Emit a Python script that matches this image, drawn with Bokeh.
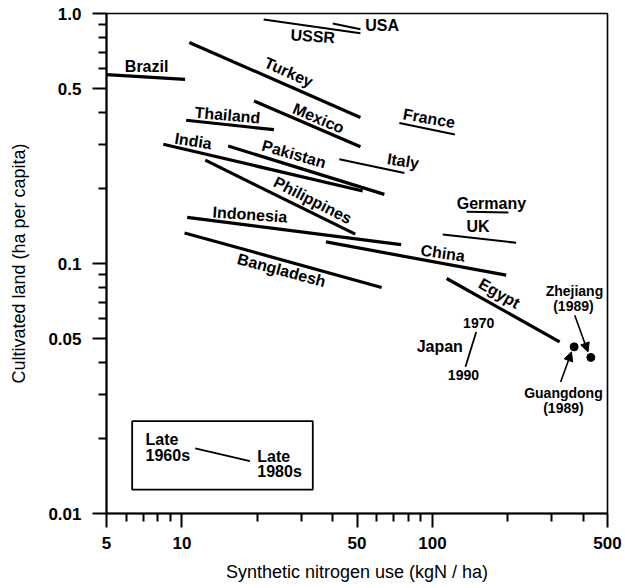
from bokeh.plotting import figure
from bokeh.models import (ColumnDataSource, FixedTicker, CustomJSTickFormatter, Range1d,
                          Arrow, NormalHead, BoxAnnotation)
from bokeh.core.properties import value
from bokeh.embed import file_html
from bokeh.resources import INLINE

# ---------------- data ----------------
countries = ["Brazil", "USSR", "USA", "Turkey", "Mexico", "Thailand", "France", "India",
             "Pakistan", "Italy", "Philippines", "Indonesia", "China", "Bangladesh",
             "Germany", "UK", "Egypt"]
# synthetic nitrogen use (kgN/ha), late 1960s and late 1980s
n_late1960s = [5.0, 21.2, 40.0, 10.7, 19.4, 10.4, 73.8, 8.43, 15.3, 42.5, 12.4, 10.5, 37.6,
               10.25, 137.0, 110.0, 114.0]
n_late1980s = [10.3, 51.6, 51.6, 51.6, 51.6, 23.3, 123.0, 52.7, 64.3, 77.3, 49.2, 75.0, 197.0,
               62.7, 201.0, 216.0, 322.0]
# cultivated land (ha per capita), late 1960s and late 1980s
land_late1960s = [0.570, 0.946, 0.912, 0.766, 0.447, 0.374, 0.365, 0.300, 0.295, 0.261, 0.259,
                  0.153, 0.122, 0.1325, 0.161, 0.1306, 0.0871]
land_late1980s = [0.545, 0.834, 0.865, 0.384, 0.293, 0.343, 0.328, 0.195, 0.189, 0.230, 0.131,
                  0.119, 0.0898, 0.0802, 0.160, 0.121, 0.0486]

japan_years = ["1970", "1990"]
japan_n = [149.6, 135.5]
japan_land = [0.0532, 0.0386]

provinces = ["Guangdong", "Zhejiang"]
province_n = [368.0, 429.0]
province_land = [0.0464, 0.0421]

x_ticks = [5, 10, 50, 100, 500]
x_tick_labels = ["5", "10", "50", "100", "500"]
x_minor = [6, 7, 8, 9, 20, 30, 40, 60, 70, 80, 90, 200, 300, 400]
y_ticks = [0.01, 0.05, 0.1, 0.5, 1.0]
y_tick_labels = ["0.01", "0.05", "0.1", "0.5", "1.0"]
y_minor = [0.02, 0.03, 0.04, 0.06, 0.07, 0.08, 0.09, 0.2, 0.3, 0.4, 0.6, 0.7, 0.8, 0.9]

# ---------------- label placement (layout, not data) ----------------
label_pos = {
    "Brazil": (7.23, 0.613, 0), "USSR": (33.3, 0.811, -4), "USA": (63.0, 0.898, 0),
    "Turkey": (26.7, 0.582, -24), "Mexico": (35.1, 0.381, -23), "Thailand": (15.2, 0.392, -5),
    "France": (97.0, 0.381, -10), "India": (11.1, 0.309, -9), "Pakistan": (28.0, 0.274, -16),
    "Italy": (76.4, 0.257, -9), "Philippines": (33.3, 0.179, -27),
    "Indonesia": (18.7, 0.157, -4), "China": (110.0, 0.110, -8),
    "Bangladesh": (25.0, 0.094, -15), "Germany": (172.0, 0.174, 0), "UK": (152.0, 0.140, 0),
    "Egypt": (185.0, 0.076, -30),
}
thin = {"USSR", "USA", "France", "Italy", "Germany", "UK"}

FONT = "Liberation Sans"

p = figure(width=625, height=588, x_axis_type="log", y_axis_type="log",
           x_range=Range1d(5, 500), y_range=Range1d(0.01, 1.0),
           output_backend="svg", toolbar_location=None,
           min_border_left=106, min_border_right=18, min_border_top=13, min_border_bottom=75)
p.xgrid.visible = False
p.ygrid.visible = False
p.outline_line_color = "black"
p.outline_line_width = 1.6
p.background_fill_color = "white"
p.border_fill_color = "white"

fmt_code = """
const i = vals.findIndex(v => Math.abs(Math.log10(v) - Math.log10(tick)) < 1e-6);
return i >= 0 ? labels[i] : "";
"""
p.xaxis.ticker = FixedTicker(ticks=x_ticks, minor_ticks=x_minor)
p.xaxis.formatter = CustomJSTickFormatter(args=dict(vals=x_ticks, labels=x_tick_labels), code=fmt_code)
p.yaxis.ticker = FixedTicker(ticks=y_ticks, minor_ticks=y_minor)
p.yaxis.formatter = CustomJSTickFormatter(args=dict(vals=y_ticks, labels=y_tick_labels), code=fmt_code)

for ax in (p.xaxis[0], p.yaxis[0]):
    ax.axis_line_width = 2
    ax.axis_line_color = "black"
    ax.major_tick_line_width = 2
    ax.minor_tick_line_width = 2
    ax.major_tick_in = 0
    ax.minor_tick_in = 0
    ax.major_tick_out = 14
    ax.minor_tick_out = 8
    ax.major_label_text_font = FONT
    ax.major_label_text_font_size = "17px"
    ax.major_label_text_font_style = "bold"
    ax.major_label_text_color = "black"
    ax.axis_label_text_font = FONT
    ax.axis_label_text_font_size = "18px"
    ax.axis_label_text_font_style = "normal"
    ax.axis_label_text_color = "black"

p.xaxis.axis_label = "Synthetic nitrogen use (kgN / ha)"
p.yaxis.axis_label = "Cultivated land (ha per capita)"
p.xaxis.major_label_standoff = 9
p.xaxis.axis_label_standoff = 10
p.yaxis.major_label_standoff = 11
p.yaxis.axis_label_standoff = 16

# country trajectories
widths = [2.0 if c in thin else 3.2 for c in countries]
src = ColumnDataSource(dict(country=countries, x0=n_late1960s, y0=land_late1960s,
                            x1=n_late1980s, y1=land_late1980s, w=widths))
p.segment("x0", "y0", "x1", "y1", source=src, line_color="black", line_width="w")

lab_src = ColumnDataSource(dict(
    text=countries,
    x=[label_pos[c][0] for c in countries],
    y=[label_pos[c][1] for c in countries],
    angle=[label_pos[c][2] * 3.14159265 / 180 for c in countries]))
p.text("x", "y", text="text", angle="angle", source=lab_src, text_font=value(FONT),
       text_font_size="16px", text_font_style="bold", text_align="center",
       text_baseline="middle", text_color="black")

# Japan
p.line(japan_n, japan_land, line_color="black", line_width=1.8)
p.text(x=[153.0, 133.0], y=[0.0577, 0.0357], text=japan_years, text_font=value(FONT),
       text_font_size="14px", text_font_style="bold", text_align="center",
       text_baseline="middle", text_color="black")
p.text(x=[107.0], y=[0.0467], text=["Japan"], text_font=value(FONT),
       text_font_size="16px", text_font_style="bold", text_align="center",
       text_baseline="middle", text_color="black")

# Chinese provinces
p.scatter(province_n, province_land, size=8, color="black")
p.text(x=[369.0, 365.6, 333.5, 333.5], y=[0.0775, 0.0675, 0.0303, 0.02637],
       text=["Zhejiang", "(1989)", "Guangdong", "(1989)"], text_font=value(FONT),
       text_font_size="14px", text_font_style="bold", text_align="center",
       text_baseline="middle", text_color="black")
p.add_layout(Arrow(end=NormalHead(size=9, fill_color="black", line_color="black"),
                   x_start=370.0, y_start=0.0621, x_end=418.0, y_end=0.0443,
                   line_width=1.6, line_color="black"))
p.add_layout(Arrow(end=NormalHead(size=9, fill_color="black", line_color="black"),
                   x_start=325.0, y_start=0.0336, x_end=359.0, y_end=0.0443,
                   line_width=1.6, line_color="black"))

# key box
p.add_layout(BoxAnnotation(left=6.33, right=33.3, bottom=0.01247, top=0.0234,
                           fill_alpha=0, line_color="black", line_alpha=1.0, line_width=1.8))
p.segment(x0=[11.3], y0=[0.0182], x1=[18.7], y1=[0.0162], line_color="black", line_width=1.8)
p.text(x=[7.16, 7.16, 20.0, 20.0], y=[0.01982, 0.0171, 0.01694, 0.01469],
       text=["Late", "1960s", "Late", "1980s"], text_font=value(FONT),
       text_font_size="16px", text_font_style="bold", text_align="left",
       text_baseline="middle", text_color="black")

open("out.html", "w").write(file_html(p, INLINE))
